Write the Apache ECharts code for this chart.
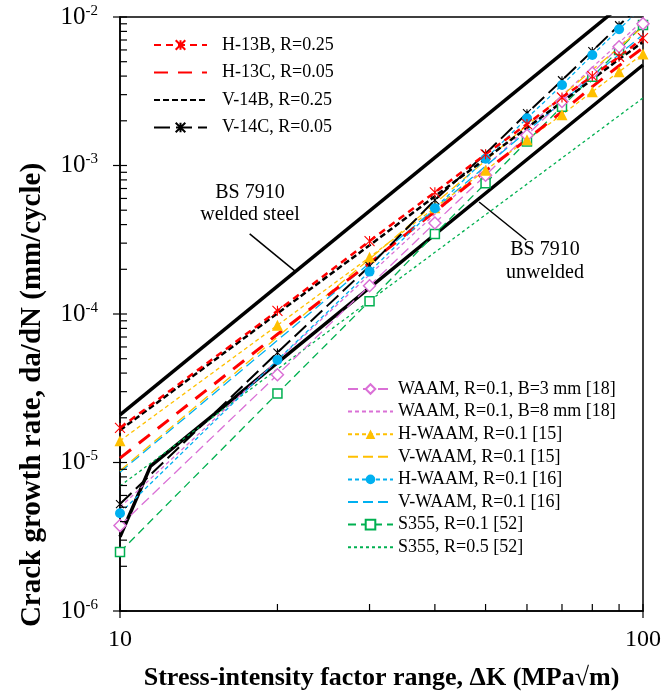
<!DOCTYPE html>
<html>
<head>
<meta charset="utf-8">
<script src="https://cdn.jsdelivr.net/npm/echarts@6/dist/echarts.min.js"></script>
<style>
  html, body { margin: 0; background: #fff; }
  #chart { width: 666px; height: 692px; }
</style>
</head>
<body>
<div id="chart"></div>
<script>
// stress-intensity factor range, MPa√m
const dK = [10, 20, 30, 40, 50, 60, 70, 80, 90, 100];

// crack growth rate, mm/cycle
const h13B = [1.71e-5, 1.05e-4, 3.1e-4, 6.6e-4, 1.19e-3, 1.9e-3, 2.87e-3, 4.0e-3, 5.4e-3, 7.2e-3];
const h13C = [1.07e-5, 7.3e-5, 2.2e-4, 4.9e-4, 9.2e-4, 1.5e-3, 2.3e-3, 3.4e-3, 4.7e-3, 6.2e-3];
const v14B = [1.65e-5, 1.01e-4, 2.9e-4, 6.2e-4, 1.11e-3, 1.79e-3, 2.68e-3, 3.8e-3, 5.2e-3, 6.8e-3];
const v14C = [5.25e-6, 5.5e-5, 2.1e-4, 5.85e-4, 1.2e-3, 2.25e-3, 3.75e-3, 5.9e-3, 8.8e-3, 1.25e-2];

const waamB3 = [3.76e-6, 3.9e-5, 1.55e-4, 4.1e-4, 8.6e-4, 1.6e-3, 2.7e-3, 4.2e-3, 6.3e-3, 9.0e-3];
const waamB8 = [5.0e-6, 4.86e-5, 1.84e-4, 4.7e-4, 9.8e-4, 1.78e-3, 2.95e-3, 4.58e-3, 6.7e-3, 9.5e-3];
const hWaam15 = [1.4e-5, 8.4e-5, 2.41e-4, 5.2e-4, 9.3e-4, 1.49e-3, 2.2e-3, 3.14e-3, 4.28e-3, 5.64e-3];
const vWaam15 = [8.8e-6, 7.0e-5, 2.35e-4, 5.55e-4, 1.08e-3, 1.86e-3, 2.95e-3, 4.4e-3, 6.25e-3, 8.6e-3];
const hWaam16 = [4.55e-6, 4.9e-5, 1.93e-4, 5.15e-4, 1.11e-3, 2.08e-3, 3.48e-3, 5.55e-3, 8.27e-3, 1.18e-2];
const vWaam16 = [8.6e-6, 6.65e-5, 2.2e-4, 5.1e-4, 9.9e-4, 1.7e-3, 2.68e-3, 3.97e-3, 5.6e-3, 7.6e-3];
const s355R01 = [2.5e-6, 2.92e-5, 1.22e-4, 3.46e-4, 7.59e-4, 1.45e-3, 2.49e-3, 3.96e-3, 6.0e-3, 8.84e-3];
const s355R05K = [10, 100];
const s355R05 = [6.95e-6, 2.85e-3];

// BS 7910 design curves
const bsWeldedK = [10, 100];
const bsWelded = [2.09e-5, 1.58e-2];
const bsUnweldedK = [10, 11.44, 100];
const bsUnwelded = [3.16e-6, 9.46e-6, 4.75e-3];

// axis ticks
const xMajor = [10, 100];
const xMinor = [20, 30, 40, 50, 60, 70, 80, 90];
const yMajor = [1e-6, 1e-5, 1e-4, 1e-3, 1e-2];
const yMinor = [];
[1e-6, 1e-5, 1e-4, 1e-3].forEach((d) => {
  [2, 3, 4, 5, 6, 7, 8, 9].forEach((m) => yMinor.push(m * d));
});

const serif = "'Times New Roman', 'Liberation Serif', serif";
const RED = "#ff0000";
const ORANGE = "#ffc000";
const BLUE = "#00b0f0";
const VIOLET = "#da70d6";
const GREEN = "#00b050";
const STAR = "path://M0,0L10,10M10,0L0,10M5,0L5,10";

const pairs = (xs, ys) => xs.map((x, i) => [x, ys[i]]);

function lineSeries(name, xs, ys, color, width, dash, symbol, size, fill) {
  const isPath = symbol && symbol.indexOf("path://") === 0;
  return {
    name: name,
    type: "line",
    data: pairs(xs, ys),
    symbol: symbol || "none",
    symbolSize: size || 0,
    showSymbol: !!symbol,
    lineStyle: { color: color, width: width, type: dash },
    itemStyle: {
      color: fill || color,
      borderColor: color,
      borderWidth: fill ? 1.5 : isPath ? 1.1 : 0,
    },
    emphasis: { disabled: true },
    z: 3,
  };
}

function tickSeries(data) {
  return {
    type: "custom",
    silent: true,
    clip: false,
    z: 5,
    data: data,
    renderItem: (params, api) => {
      const p = api.coord([api.value(0), api.value(1)]);
      const major = api.value(2) === 1;
      const onY = api.value(3) === 1;
      const shape = onY
        ? { x1: p[0] - (major ? 7 : 0), y1: p[1], x2: p[0] + 7, y2: p[1] }
        : { x1: p[0], y1: p[1] + (major ? 7 : 0), x2: p[0], y2: p[1] - 7 };
      return { type: "line", shape: shape, style: { stroke: "#000", lineWidth: 1.2 } };
    },
  };
}

const tickData = []
  .concat(yMajor.map((v) => [10, v, 1, 1]))
  .concat(yMinor.map((v) => [10, v, 0, 1]))
  .concat(xMajor.map((v) => [v, 1e-6, 1, 0]))
  .concat(xMinor.map((v) => [v, 1e-6, 0, 0]));

function pointer(from, to) {
  return {
    silent: true,
    symbol: "none",
    label: { show: false },
    lineStyle: { color: "#000", width: 1.5, type: "solid" },
    data: [[{ coord: from }, { coord: to }]],
  };
}

const bsWeldedSeries = lineSeries("BS 7910 welded", bsWeldedK, bsWelded, "#000", 3.5, "solid");
bsWeldedSeries.z = 2;
bsWeldedSeries.markLine = pointer([17.7, 3.46e-4], [21.7, 1.92e-4]);
const bsUnweldedSeries = lineSeries("BS 7910 unwelded", bsUnweldedK, bsUnwelded, "#000", 3.5, "solid");
bsUnweldedSeries.z = 2;
bsUnweldedSeries.markLine = pointer([48.6, 5.68e-4], [59.8, 3.15e-4]);

const hidden = { opacity: 0 };
const legendA = [
  { name: "H-13B, R=0.25" },
  { name: "H-13C, R=0.05", itemStyle: hidden },
  { name: "V-14B, R=0.25", itemStyle: hidden },
  { name: "V-14C, R=0.05" },
];
const legendB = [
  { name: "WAAM, R=0.1, B=3 mm [18]" },
  { name: "WAAM, R=0.1, B=8 mm [18]", itemStyle: hidden },
  { name: "H-WAAM, R=0.1 [15]" },
  { name: "V-WAAM, R=0.1 [15]", itemStyle: hidden },
  { name: "H-WAAM, R=0.1 [16]" },
  { name: "V-WAAM, R=0.1 [16]", itemStyle: hidden },
  { name: "S355, R=0.1 [52]" },
  { name: "S355, R=0.5 [52]", itemStyle: hidden },
];

function note(text, x, y) {
  return {
    type: "text",
    x: x,
    y: y,
    silent: true,
    style: { text: text, fontFamily: serif, fontSize: 20, fill: "#000", align: "center", verticalAlign: "middle" },
  };
}

const chart = echarts.init(document.getElementById("chart"));
chart.setOption({
  animation: false,
  backgroundColor: "#fff",
  grid: {
    left: 120,
    right: 23,
    top: 17,
    bottom: 81,
    outerBoundsMode: "none",
    containLabel: false,
    show: true,
    borderColor: "#000",
    borderWidth: 1.5,
    backgroundColor: "transparent",
  },
  xAxis: {
    type: "log",
    logBase: 10,
    min: 10,
    max: 100,
    axisLine: { lineStyle: { color: "#000", width: 1.5 } },
    axisTick: { show: false },
    splitLine: { show: false },
    axisLabel: { color: "#000", fontFamily: serif, fontSize: 24, margin: 17 },
    name: "Stress-intensity factor range, ΔK (MPa√m)",
    nameLocation: "middle",
    nameGap: 54,
    nameTextStyle: { color: "#000", fontFamily: serif, fontSize: 26, fontWeight: "bold" },
  },
  yAxis: {
    type: "log",
    logBase: 10,
    min: 1e-6,
    max: 1e-2,
    axisLine: { lineStyle: { color: "#000", width: 1.5 } },
    axisTick: { show: false },
    splitLine: { show: false },
    axisLabel: {
      margin: 22,
      formatter: (v) => "{b|10}{s|" + Math.round(Math.log10(v)) + "}",
      rich: {
        b: { color: "#000", fontFamily: serif, fontSize: 25 },
        s: { color: "#000", fontFamily: serif, fontSize: 15, padding: [0, 0, 12, 0] },
      },
    },
  },
  legend: [
    {
      data: legendA,
      orient: "vertical",
      left: 148,
      top: 31,
      itemWidth: 53,
      itemHeight: 12,
      itemGap: 9.5,
      selectedMode: false,
      textStyle: { color: "#000", fontFamily: serif, fontSize: 18, padding: [0, 0, 0, 10] },
    },
    {
      data: legendB,
      orient: "vertical",
      left: 342,
      top: 375,
      itemWidth: 45,
      itemHeight: 12,
      itemGap: 4.6,
      selectedMode: false,
      textStyle: { color: "#000", fontFamily: serif, fontSize: 18 },
    },
  ],
  graphic: [
    {
      type: "text",
      x: 33,
      y: 395,
      rotation: Math.PI / 2,
      silent: true,
      style: {
        text: "Crack growth rate, da/dN (mm/cycle)",
        fontFamily: serif,
        fontSize: 29,
        fontWeight: "bold",
        fill: "#000",
        align: "center",
        verticalAlign: "middle",
      },
    },
    note("BS 7910", 250, 193),
    note("welded steel", 250, 215),
    note("BS 7910", 545, 250),
    note("unwelded", 545, 273),
  ],
  series: [
    bsWeldedSeries,
    bsUnweldedSeries,
    lineSeries(legendB[7].name, s355R05K, s355R05, GREEN, 1.3, [3, 3]),
    lineSeries(legendB[6].name, dK, s355R01, GREEN, 1.3, [8, 5], "rect", 9, "#fff"),
    lineSeries(legendB[1].name, dK, waamB8, VIOLET, 1.3, [4, 3]),
    lineSeries(legendB[0].name, dK, waamB3, VIOLET, 1.3, [10, 5], "diamond", 12, "#fff"),
    lineSeries(legendB[5].name, dK, vWaam16, BLUE, 1.3, [10, 5]),
    lineSeries(legendB[3].name, dK, vWaam15, ORANGE, 1.3, [10, 5]),
    lineSeries(legendB[2].name, dK, hWaam15, ORANGE, 1.3, [4, 3], "triangle", 11),
    lineSeries(legendA[1].name, dK, h13C, RED, 3, [14, 10]),
    lineSeries(legendA[3].name, dK, v14C, "#000", 2, [16, 6], STAR, 8),
    lineSeries(legendB[4].name, dK, hWaam16, BLUE, 1.3, [4, 3], "circle", 10),
    lineSeries(legendA[2].name, dK, v14B, "#000", 2.5, [6, 3]),
    lineSeries(legendA[0].name, dK, h13B, RED, 2.5, [7, 5], STAR, 10),
    tickSeries(tickData),
  ],
});
</script>
</body>
</html>
